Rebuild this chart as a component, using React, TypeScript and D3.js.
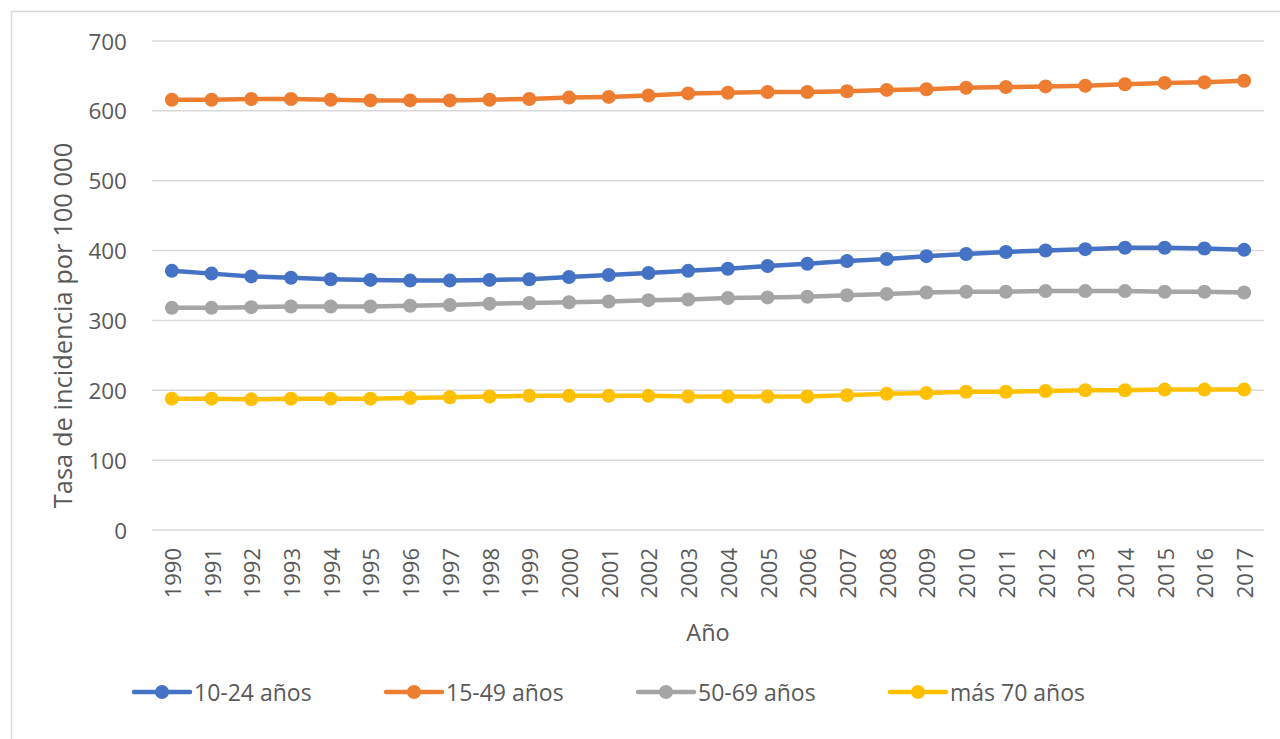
import React from "react";
import * as d3 from "d3";

const years = [
  "1990","1991","1992","1993","1994","1995","1996","1997","1998","1999",
  "2000","2001","2002","2003","2004","2005","2006","2007","2008","2009",
  "2010","2011","2012","2013","2014","2015","2016","2017",
];

const serie1024 = [371,367,363,361,359,358,357,357,358,359,362,365,368,371,374,378,381,385,388,392,395,398,400,402,404,404,403,401];
const serie1549 = [616,616,617,617,616,615,615,615,616,617,619,620,622,625,626,627,627,628,630,631,633,634,635,636,638,640,641,643];
const serie5069 = [318,318,319,320,320,320,321,322,324,325,326,327,329,330,332,333,334,336,338,340,341,341,342,342,342,341,341,340];
const serieMas70 = [188,188,187,188,188,188,189,190,191,192,192,192,192,191,191,191,191,193,195,196,198,198,199,200,200,201,201,201];

const seriesNames = ["10-24 años", "15-49 años", "50-69 años", "más 70 años"];
const seriesColors = ["#4472C4", "#ED7D31", "#A5A5A5", "#FFC000"];
const yTicks = [0, 100, 200, 300, 400, 500, 600, 700];

const seriesData = [serie1024, serie1549, serie5069, serieMas70];

const FONT = "'Open Sans', 'Segoe UI', sans-serif";
const TXT = "#595959";

export default function App() {
  const W = 1280;
  const H = 739;
  const plotLeft = 152;
  const plotRight = 1264;
  const plotTop = 41;
  const plotBottom = 530;

  const x = d3.scaleBand<string>().domain(years).range([plotLeft, plotRight]).padding(0);
  const y = d3.scaleLinear().domain([0, 700]).range([plotBottom, plotTop]);
  const cx = (yr: string) => (x(yr) as number) + x.bandwidth() / 2;

  const line = d3
    .line<number>()
    .x((_, i) => cx(years[i]))
    .y((d) => y(d));

  return (
    <svg
      width={W}
      height={H}
      style={{ position: "absolute", left: 0, top: 0, background: "#fff" }}
      fontFamily={FONT}
    >
      <rect x={0} y={0} width={W} height={H} fill="#fff" />
      <rect x={11.5} y={11.5} width={1400} height={900} fill="none" stroke="#d9d9d9" strokeWidth={1.5} />

      {yTicks.map((t) => (
        <g key={t}>
          <line x1={plotLeft} x2={plotRight} y1={y(t)} y2={y(t)} stroke="#d9d9d9" strokeWidth={1.5} />
          <text x={127} y={y(t)} textAnchor="end" dominantBaseline="central" fontSize={22.5} fill={TXT}>
            {t}
          </text>
        </g>
      ))}

      {years.map((yr) => (
        <text
          key={yr}
          transform={`translate(${cx(yr)},${548}) rotate(-90)`}
          textAnchor="end"
          dominantBaseline="central"
          fontSize={22}
          fill={TXT}
        >
          {yr}
        </text>
      ))}

      <text x={(plotLeft + plotRight) / 2} y={632} textAnchor="middle" dominantBaseline="central" fontSize={23.5} fill={TXT}>
        Año
      </text>
      <text
        transform={`translate(62,${(plotTop + plotBottom) / 2 + 40}) rotate(-90)`}
        textAnchor="middle"
        dominantBaseline="central"
        fontSize={25.5}
        fill={TXT}
      >
        Tasa de incidencia por 100 000
      </text>

      {seriesData.map((s, si) => (
        <g key={si}>
          <path d={line(s) || ""} fill="none" stroke={seriesColors[si]} strokeWidth={4.5} strokeLinejoin="round" strokeLinecap="round" />
          {s.map((v, i) => (
            <circle key={i} cx={cx(years[i])} cy={y(v)} r={7} fill={seriesColors[si]} />
          ))}
        </g>
      ))}

      {seriesNames.map((n, i) => {
        const lx = 134 + i * 252;
        return (
          <g key={n}>
            <line x1={lx} x2={lx + 56} y1={692} y2={692} stroke={seriesColors[i]} strokeWidth={4.5} strokeLinecap="round" />
            <circle cx={lx + 28} cy={692} r={7} fill={seriesColors[i]} />
            <text x={lx + 60} y={692} dominantBaseline="central" fontSize={23} fill={TXT}>
              {n}
            </text>
          </g>
        );
      })}
    </svg>
  );
}
